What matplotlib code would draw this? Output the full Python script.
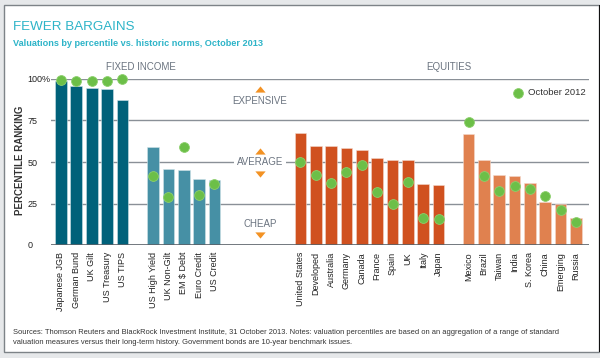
import matplotlib
matplotlib.use("Agg")
import matplotlib.pyplot as plt
from matplotlib.patches import Rectangle
from matplotlib import font_manager

# ---- data -----------------------------------------------------------------
gov_labels = ["Japanese JGB", "German Bund", "UK Gilt", "US Treasury", "US TIPS"]
gov_values = [99, 96, 94.4, 93.8, 87.3]
gov_2012 = [99.4, 99, 99, 99, 100]

credit_labels = ["US High Yield", "UK Non-Gilt", "EM $ Debt", "Euro Credit", "US Credit"]
credit_values = [59.2, 45.6, 45, 39.6, 39]
credit_2012 = [41.8, 28.9, 59, 30.1, 36.9]

dev_labels = ["United States", "Developed", "Australia", "Germany", "Canada",
              "France", "Spain", "UK", "Italy", "Japan"]
dev_values = [67.7, 59.8, 59.8, 58.2, 57.2, 52.2, 51.2, 51.2, 36.7, 36.1]
dev_2012 = [50.2, 42.2, 37.3, 43.8, 48, 31.7, 24.7, 37.9, 16.3, 15.9]

em_labels = ["Mexico", "Brazil", "Taiwan", "India", "S. Korea", "China",
             "Emerging", "Russia"]
em_values = [67, 51.2, 42.2, 41.8, 37.3, 25.9, 24.7, 16.1]
em_2012 = [74.1, 41.6, 32.7, 35.7, 33.5, 29.3, 21.3, 14]

y_ticks = [0, 25, 50, 75, 100]
y_ticklabels = ["0", "25", "50", "75", "100%"]

# ---- style ----------------------------------------------------------------
installed = {f.name for f in font_manager.fontManager.ttflist}
narrow = ["Liberation Sans Narrow", "Liberation Sans", "DejaVu Sans"]
narrow = [f for f in narrow if f in installed] or ["DejaVu Sans"]
plt.rcParams["font.family"] = narrow

TEAL_DARK = "#00617a"
TEAL = "#4690a5"
ORANGE_DARK = "#d0511f"
ORANGE = "#e0814f"
GREEN = "#6cbf48"
ARROW = "#f39223"
GRID = "#8a9097"
GREY_TXT = "#6b7480"
TITLE = "#2db4c8"

# flat triangles for the valuation guide
UP = [(-1, -0.6), (1, -0.6), (0, 0.6), (-1, -0.6)]
DOWN = [(-1, 0.6), (1, 0.6), (0, -0.6), (-1, 0.6)]

fig = plt.figure(figsize=(6.0, 3.58), dpi=100, facecolor="#e6e8ea")
W, H = 600, 358

# frame
fig.patches.append(Rectangle((4 / W, 1 - 352 / H), 595 / W, 347 / H,
                             transform=fig.transFigure, facecolor="white",
                             edgecolor="#7d8388", linewidth=1.0, zorder=-10))
fig.patches.append(Rectangle((598.5 / W, 1 - 352 / H), 1.5 / W, 347 / H,
                             transform=fig.transFigure, facecolor="#111111",
                             edgecolor="none", zorder=-9))

ax = fig.add_axes([51 / W, 1 - 245 / H, (589 - 51) / W, (245 - 79) / H])
ax.set_facecolor("none")

groups = [
    (0.0, gov_labels, gov_values, gov_2012, TEAL_DARK),
    (6.0, credit_labels, credit_values, credit_2012, TEAL),
    (15.6, dev_labels, dev_values, dev_2012, ORANGE_DARK),
    (26.55, em_labels, em_values, em_2012, ORANGE),
]

xticks, xlabels = [], []
for start, labels, vals, prev, color in groups:
    xs = [start + i for i in range(len(labels))]
    edge = "#f3d9cc" if color in (ORANGE, ORANGE_DARK) else "#cfe3e8"
    ax.bar(xs, vals, width=0.76, color=color, edgecolor=edge,
           linewidth=0.4, zorder=3)
    ax.scatter(xs, prev, s=50, color=GREEN, edgecolor="#8ccf6c", linewidth=0.6,
               zorder=5, clip_on=False)
    xticks += xs
    xlabels += labels

# grid lines
for y in (25, 50, 75, 100):
    ax.axhline(y, color=GRID, linewidth=1.0, zorder=1)
ax.axhline(0, color="#5a6168", linewidth=1.2, zorder=4)

ax.set_xlim(-0.65, 34.4)
ax.set_ylim(0, 100)
ax.set_xticks(xticks)
ax.set_xticklabels(xlabels, rotation=90, fontsize=6.5, color="#222222", va="top")
ax.tick_params(axis="x", length=0, pad=5)
ax.set_yticks(y_ticks)
ax.set_yticklabels(y_ticklabels, fontsize=6.5, color="#222222", ha="left")
ax.tick_params(axis="y", length=0, pad=17)
for s in ax.spines.values():
    s.set_visible(False)

fig.text(20 / W, 1 - 160 / H, "PERCENTILE RANKING", rotation=90, fontsize=7,
         fontweight="bold", color="#333333", ha="center", va="center")

# group headers
ax.text(5.2, 107.2, "FIXED INCOME", ha="center", va="center", fontsize=7,
        color=GREY_TXT)
ax.text(25.3, 107.2, "EQUITIES", ha="center", va="center", fontsize=7,
        color=GREY_TXT)

# legend
ax.scatter([29.8], [91.6], s=50, color=GREEN, edgecolor="#8ccf6c",
           linewidth=0.6, zorder=5, clip_on=False)
ax.text(30.4, 91.6, "October 2012", ha="left", va="center", fontsize=6.8,
        color="#333333")

# valuation guide
gx = 12.96
ax.text(gx, 86.9, "EXPENSIVE", ha="center", va="center", fontsize=7,
        color=GREY_TXT, zorder=6)
ax.text(gx, 50, "AVERAGE", ha="center", va="center", fontsize=7,
        color=GREY_TXT, zorder=6,
        bbox=dict(facecolor="white", edgecolor="none", pad=2.0))
ax.text(gx, 12.7, "CHEAP", ha="center", va="center", fontsize=7,
        color=GREY_TXT, zorder=6)
ax.scatter([gx, gx], [94, 56.8], marker=UP, s=55, color=ARROW, linewidth=0,
           zorder=6)
ax.scatter([gx, gx], [42.8, 6], marker=DOWN, s=55, color=ARROW, linewidth=0,
           zorder=6)

# titles
fig.text(13 / W, 1 - 27 / H, "FEWER BARGAINS", fontsize=9.6, color=TITLE,
         va="center", ha="left")
fig.text(13 / W, 1 - 44 / H, "Valuations by percentile vs. historic norms, October 2013",
         fontsize=6.6, color=TITLE, va="center", ha="left", fontweight="bold")

# footer
fig.text(13 / W, 1 - 332 / H,
         "Sources: Thomson Reuters and BlackRock Investment Institute, 31 October 2013. "
         "Notes: valuation percentiles are based on an aggregation of a range of standard",
         fontsize=5.4, color="#333333", va="center", ha="left")
fig.text(13 / W, 1 - 343 / H,
         "valuation measures versus their long-term history. Government bonds are "
         "10-year benchmark issues.",
         fontsize=5.4, color="#333333", va="center", ha="left")

fig.savefig("out.png", dpi=100, facecolor=fig.get_facecolor())
